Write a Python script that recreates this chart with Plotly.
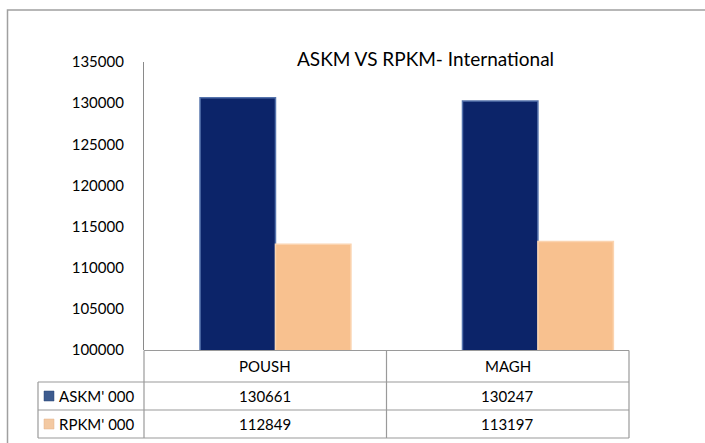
import plotly.graph_objects as go

categories = ["POUSH", "MAGH"]
series_names = ["ASKM' 000", "RPKM' 000"]
askm_values = [130661, 130247]
rpkm_values = [112849, 113197]
y_ticks = [100000, 105000, 110000, 115000, 120000, 125000, 130000, 135000]
title_text = "ASKM VS RPKM- International"

FONT = "Lato, Open Sans, sans-serif"
W, H = 705, 443
L, R, T, B = 144, 76, 62, 93
PW = W - L - R
PH = H - T - B


def px(x):
    return (x - L) / PW


def py(y):
    return 1 - (y - T) / PH


fig = go.Figure()
fig.add_trace(go.Bar(
    x=categories, y=askm_values, name=series_names[0],
    marker=dict(color="#0C2469", line=dict(color="#5573AC", width=1.5)),
))
fig.add_trace(go.Bar(
    x=categories, y=rpkm_values, name=series_names[1],
    marker=dict(color="#F8C18F", line=dict(color="#FBD4B0", width=1.5)),
))

shapes = []
line_col = "#9a9a9a"
shapes.append(dict(type="rect", xref="paper", yref="paper",
                   x0=px(7.5), x1=px(720), y0=py(10), y1=py(460),
                   line=dict(color="#a0a0a0", width=1.5), fillcolor="rgba(0,0,0,0)", layer="below"))

col_x = [L, L + PW / 2, L + PW]
row_y = [350.5, 382, 410, 438]
label_x0 = 38
shapes.append(dict(type="line", xref="paper", yref="paper", x0=px(L), x1=px(L + PW),
                   y0=py(row_y[0]), y1=py(row_y[0]), line=dict(color=line_col, width=1.2)))
for yy in row_y[1:]:
    shapes.append(dict(type="line", xref="paper", yref="paper", x0=px(label_x0), x1=px(L + PW),
                       y0=py(yy), y1=py(yy), line=dict(color=line_col, width=1.2)))
for xx in col_x:
    shapes.append(dict(type="line", xref="paper", yref="paper", x0=px(xx), x1=px(xx),
                       y0=py(row_y[0]), y1=py(row_y[-1]), line=dict(color=line_col, width=1.2)))
shapes.append(dict(type="line", xref="paper", yref="paper", x0=px(label_x0), x1=px(label_x0),
                   y0=py(row_y[1]), y1=py(row_y[-1]), line=dict(color=line_col, width=1.2)))

key_cols = ["#3D5B8E", "#F3C9A2"]
key_lines = ["#2A4676", "#E0B08A"]
for i in range(2):
    yc = (row_y[i + 1] + row_y[i + 2]) / 2
    shapes.append(dict(type="rect", xref="paper", yref="paper",
                       x0=px(44), x1=px(54), y0=py(yc - 5), y1=py(yc + 5),
                       fillcolor=key_cols[i], line=dict(color=key_lines[i], width=0.5)))

annotations = []
annotations.append(dict(text=title_text, xref="paper", yref="paper", x=px(425), y=py(59),
                        showarrow=False, font=dict(family=FONT, size=19, color="#000"),
                        xanchor="center", yanchor="middle"))
col_centers = [(col_x[0] + col_x[1]) / 2, (col_x[1] + col_x[2]) / 2]
for j, c in enumerate(categories):
    annotations.append(dict(text=c, xref="paper", yref="paper", x=px(col_centers[j]),
                            y=py((row_y[0] + row_y[1]) / 2), showarrow=False,
                            font=dict(family=FONT, size=15, color="#000"),
                            xanchor="center", yanchor="middle"))
for i, vals in enumerate([askm_values, rpkm_values]):
    yc = (row_y[i + 1] + row_y[i + 2]) / 2
    annotations.append(dict(text=series_names[i], xref="paper", yref="paper", x=px(57), y=py(yc),
                            showarrow=False, font=dict(family=FONT, size=15, color="#000"),
                            xanchor="left", yanchor="middle"))
    for j, v in enumerate(vals):
        annotations.append(dict(text=str(v), xref="paper", yref="paper", x=px(col_centers[j]),
                                y=py(yc), showarrow=False,
                                font=dict(family=FONT, size=15, color="#000"),
                                xanchor="center", yanchor="middle"))

fig.update_layout(
    width=W, height=H,
    margin=dict(l=L, r=R, t=T, b=B, pad=0),
    paper_bgcolor="white", plot_bgcolor="white",
    barmode="group", bargap=0.425, bargroupgap=0,
    showlegend=False,
    shapes=shapes, annotations=annotations,
    font=dict(family=FONT, color="#000"),
)
fig.update_xaxes(type="category", range=[-0.501, 1.347], showticklabels=False,
                 showgrid=False, zeroline=False, showline=False, ticks="")
fig.update_yaxes(range=[100000, 135000], tickvals=y_ticks, ticktext=[str(t) for t in y_ticks],
                 showgrid=False, zeroline=False, showline=True, linecolor="#8a8a8a", linewidth=1.2,
                 ticks="", ticklabelstandoff=16, tickfont=dict(family=FONT, size=15, color="#000"))

fig.write_html("out.html", config={"displayModeBar": False},
               post_script="document.body.style.margin='0';document.body.style.overflow='hidden';")
